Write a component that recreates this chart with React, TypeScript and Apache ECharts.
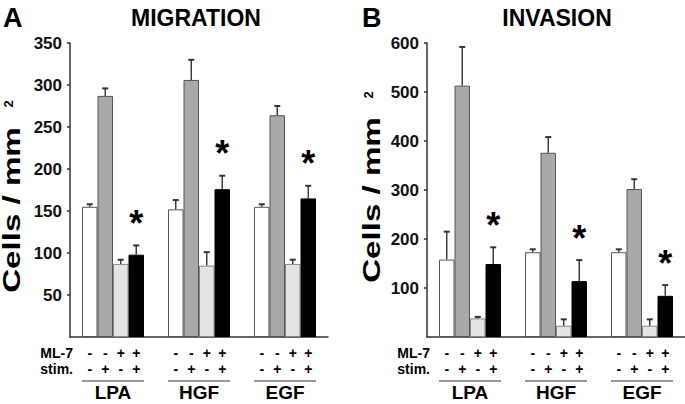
import React, { useEffect, useRef } from "react";
import * as echarts from "echarts";

const categories = ["LPA", "HGF", "EGF"];

// Migration (cells / mm²)
const migControl = [155, 152, 155];
const migControlErr = [3, 11, 3];
const migStim = [287, 306, 264];
const migStimErr = [9, 24, 11];
const migMl7 = [87, 85, 87];
const migMl7Err = [5, 16, 5];
const migMl7Stim = [98, 176, 165];
const migMl7StimErr = [11, 16, 15];

// Invasion (cells / mm²)
const invControl = [158, 173, 173];
const invControlErr = [57, 6, 6];
const invStim = [513, 376, 302];
const invStimErr = [79, 32, 20];
const invMl7 = [38, 23, 23];
const invMl7Err = [3, 13, 13];
const invMl7Stim = [149, 114, 84];
const invMl7StimErr = [34, 43, 22];

// significance star on ML-7 + stim bar
const migSignificant = [1, 1, 1];
const invSignificant = [1, 1, 1];

const ml7Signs = ["-", "-", "+", "+"];
const stimSigns = ["-", "+", "-", "+"];

const migTicks = { min: 0, max: 350, interval: 50 };
const invTicks = { min: 0, max: 600, interval: 100 };

const FONT = "'Liberation Sans', Arial, Helvetica, sans-serif";
const BW = 15.5;

const barStyles = [
  { color: "#ffffff", borderColor: "#555555" },
  { color: "#a9a9a9", borderColor: "#555555" },
  { color: "#e4e4e4", borderColor: "#888888" },
  { color: "#000000", borderColor: "#000000" },
];

function errData(vals: number[][], errs: number[][], sig: number[]) {
  const out: number[][] = [];
  for (let c = 0; c < categories.length; c++) {
    for (let k = 0; k < 4; k++) {
      out.push([c, k, vals[k][c], vals[k][c] + errs[k][c], k === 3 ? sig[c] : 0]);
    }
  }
  return out;
}

function errRender(params: any, api: any) {
  const cat = api.value(0);
  const k = api.value(1);
  const v = api.value(2);
  const hi = api.value(3);
  const star = api.value(4);
  const p0 = api.coord([cat, v]);
  const p1 = api.coord([cat, hi]);
  const x = p0[0] + (k - 1.5) * BW;
  const children: any[] = [
    { type: "line", shape: { x1: x, y1: p0[1], x2: x, y2: p1[1] }, style: { stroke: "#333", lineWidth: 1.4 } },
    { type: "line", shape: { x1: x - 3, y1: p1[1], x2: x + 3, y2: p1[1] }, style: { stroke: "#333", lineWidth: 2 } },
  ];
  if (star) {
    children.push({
      type: "text",
      x,
      y: p1[1] - 22,
      style: { text: "*", font: `bold 36px ${FONT}`, align: "center", verticalAlign: "middle", fill: "#000" },
    });
  }
  return { type: "group", children };
}

function labelRender(params: any, api: any) {
  const cat = api.value(0);
  const base = api.coord([cat, 0]);
  const xc = base[0];
  const y0 = base[1];
  const children: any[] = [];
  for (let k = 0; k < 4; k++) {
    const x = xc + (k - 1.5) * BW;
    children.push({
      type: "text", x, y: y0 + 16,
      style: { text: ml7Signs[k], font: `bold 14px ${FONT}`, align: "center", verticalAlign: "middle", fill: "#000" },
    });
    children.push({
      type: "text", x, y: y0 + 32,
      style: { text: stimSigns[k], font: `bold 14px ${FONT}`, align: "center", verticalAlign: "middle", fill: "#000" },
    });
  }
  children.push({
    type: "line",
    shape: { x1: xc - 2 * BW, y1: y0 + 44, x2: xc + 2 * BW, y2: y0 + 44 },
    style: { stroke: "#333", lineWidth: 1 },
  });
  children.push({
    type: "text", x: xc, y: y0 + 55,
    style: { text: categories[cat], font: `bold 19px ${FONT}`, align: "center", verticalAlign: "middle", fill: "#000" },
  });
  return { type: "group", children };
}

function yAxisCfg(idx: number, t: { min: number; max: number; interval: number }) {
  return {
    type: "value",
    gridIndex: idx,
    min: t.min,
    max: t.max,
    interval: t.interval,
    axisLine: { show: true, lineStyle: { color: "#333", width: 1.5 } },
    axisTick: { show: true, length: 3, lineStyle: { color: "#333", width: 1.5 } },
    axisLabel: { showMinLabel: false, fontSize: 17, fontWeight: "bold", color: "#111", margin: 8, fontFamily: FONT },
    splitLine: { show: false },
  };
}

function xAxisCfg(idx: number) {
  return {
    type: "category",
    gridIndex: idx,
    data: categories,
    axisLine: { show: true, lineStyle: { color: "#333", width: 1.5 } },
    axisTick: { show: false },
    axisLabel: { show: false },
  };
}

function barSeries(idx: number, vals: number[][]) {
  return vals.map((d, k) => ({
    type: "bar",
    xAxisIndex: idx,
    yAxisIndex: idx,
    data: d,
    barWidth: BW,
    barGap: "0%",
    itemStyle: { color: barStyles[k].color, borderColor: barStyles[k].borderColor, borderWidth: 1 },
    z: 2,
  }));
}

export default function App() {
  const ref = useRef<HTMLDivElement>(null);
  useEffect(() => {
    document.body.style.margin = "0";
    const chart = echarts.init(ref.current!, null, { renderer: "svg" });
    const migVals = [migControl, migStim, migMl7, migMl7Stim];
    const migErrs = [migControlErr, migStimErr, migMl7Err, migMl7StimErr];
    const invVals = [invControl, invStim, invMl7, invMl7Stim];
    const invErrs = [invControlErr, invStimErr, invMl7Err, invMl7StimErr];
    const labelData = categories.map((_, i) => [i, 0]);
    const titleFont = `bold 23px ${FONT}`;
    const letterFont = `bold 27px ${FONT}`;
    const yNameFont = `bold 24px ${FONT}`;
    const rowFont = `bold 14px ${FONT}`;
    chart.setOption({
      animation: false,
      backgroundColor: "#ffffff",
      grid: [
        { left: 70, top: 43, width: 258, height: 294 },
        { left: 427, top: 43, width: 258, height: 294 },
      ],
      xAxis: [xAxisCfg(0), xAxisCfg(1)],
      yAxis: [yAxisCfg(0, migTicks), yAxisCfg(1, invTicks)],
      series: [
        ...barSeries(0, migVals),
        ...barSeries(1, invVals),
        {
          type: "custom", xAxisIndex: 0, yAxisIndex: 0, z: 5,
          data: errData(migVals, migErrs, migSignificant),
          encode: { x: 0, y: 3 }, renderItem: errRender,
        },
        {
          type: "custom", xAxisIndex: 1, yAxisIndex: 1, z: 5,
          data: errData(invVals, invErrs, invSignificant),
          encode: { x: 0, y: 3 }, renderItem: errRender,
        },
        {
          type: "custom", xAxisIndex: 0, yAxisIndex: 0, z: 5, clip: false,
          data: labelData, encode: { x: 0, y: 1 }, renderItem: labelRender,
        },
        {
          type: "custom", xAxisIndex: 1, yAxisIndex: 1, z: 5, clip: false,
          data: labelData, encode: { x: 0, y: 1 }, renderItem: labelRender,
        },
      ],
      graphic: [
        { type: "text", left: 3, top: 4, style: { text: "A", font: letterFont, fill: "#000" } },
        { type: "text", x: 196, y: 18, style: { text: "MIGRATION", font: titleFont, fill: "#000", align: "center", verticalAlign: "middle" } },
        { type: "text", left: 362, top: 4, style: { text: "B", font: letterFont, fill: "#000" } },
        { type: "text", x: 557, y: 18, style: { text: "INVASION", font: titleFont, fill: "#000", align: "center", verticalAlign: "middle" } },
        { type: "text", x: 12, y: 210, rotation: Math.PI / 2, scaleX: 1.38, style: { text: "Cells / mm", font: yNameFont, fill: "#000", align: "center", verticalAlign: "middle" } },
        { type: "text", x: 8, y: 104, rotation: Math.PI / 2, style: { text: "2", font: `bold 13px ${FONT}`, fill: "#000", align: "center", verticalAlign: "middle" } },
        { type: "text", x: 372, y: 200, rotation: Math.PI / 2, scaleX: 1.38, style: { text: "Cells / mm", font: yNameFont, fill: "#000", align: "center", verticalAlign: "middle" } },
        { type: "text", x: 368, y: 95, rotation: Math.PI / 2, style: { text: "2", font: `bold 13px ${FONT}`, fill: "#000", align: "center", verticalAlign: "middle" } },
        { type: "text", x: 73, y: 353, style: { text: "ML-7", font: rowFont, fill: "#000", align: "right", verticalAlign: "middle" } },
        { type: "text", x: 73, y: 369, style: { text: "stim.", font: rowFont, fill: "#000", align: "right", verticalAlign: "middle" } },
        { type: "text", x: 430, y: 353, style: { text: "ML-7", font: rowFont, fill: "#000", align: "right", verticalAlign: "middle" } },
        { type: "text", x: 430, y: 369, style: { text: "stim.", font: rowFont, fill: "#000", align: "right", verticalAlign: "middle" } },
      ],
    });
    return () => chart.dispose();
  }, []);
  return <div ref={ref} style={{ width: 685, height: 404, position: "fixed", left: 0, top: 0 }} />;
}
